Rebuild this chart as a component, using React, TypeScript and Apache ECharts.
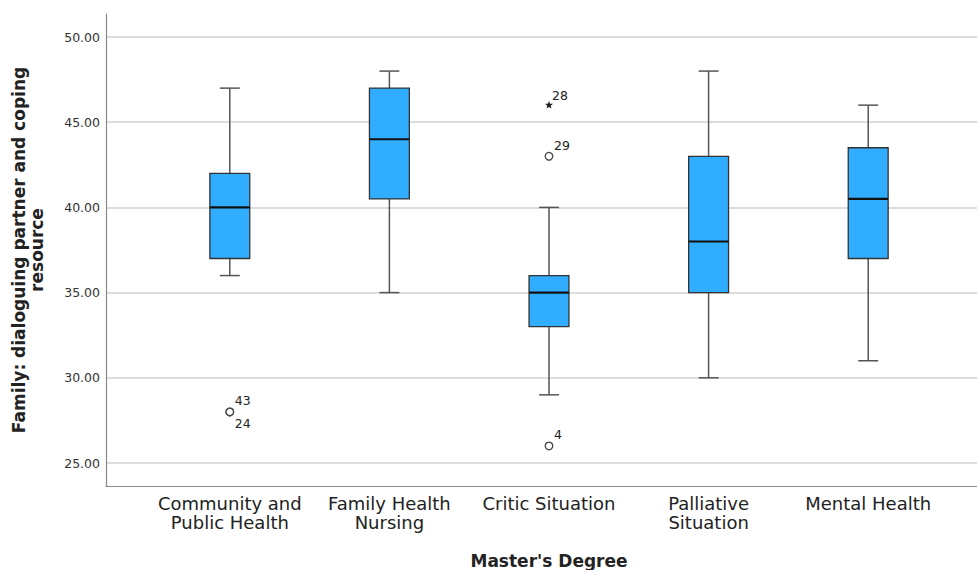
import React, { useEffect, useRef } from 'react';
import * as echarts from 'echarts';

// ---- Data ----
const categories = [
  'Community and\nPublic Health',
  'Family Health\nNursing',
  'Critic Situation',
  'Palliative\nSituation',
  'Mental Health',
];
const whiskerLow = [36, 35, 29, 30, 31];
const quartile1 = [37, 40.5, 33, 35, 37];
const medians = [40, 44, 35, 38, 40.5];
const quartile3 = [42, 47, 36, 43, 43.5];
const whiskerHigh = [47, 48, 40, 48, 46];

// outliers: category index, value, case number, extreme (star) flag
const outlierCategory = [0, 0, 2, 2, 2];
const outlierValue = [28, 28, 46, 43, 26];
const outlierCase = ['43', '24', '28', '29', '4'];
const outlierExtreme = [false, false, true, false, false];

const yTicks = { min: 25, max: 50, step: 5 };

const FONT = 'DejaVu Sans';
const TEXT = '#222';

export default function App() {
  const ref = useRef<HTMLDivElement>(null);

  useEffect(() => {
    document.body.style.margin = '0';
    const chart = echarts.init(ref.current!, null, { renderer: 'svg' });

    const boxData = categories.map((_, i) => [
      i,
      whiskerLow[i],
      quartile1[i],
      medians[i],
      quartile3[i],
      whiskerHigh[i],
    ]);
    const outlierData = outlierCategory.map((c, i) => [c, outlierValue[i], i]);

    const option: any = {
      animation: false,
      grid: [
        { left: 106, right: 0, top: 14, bottom: 84, outerBoundsMode: 'none', containLabel: false },
        { left: 106, right: 0, top: 37, bottom: 107, outerBoundsMode: 'none', containLabel: false },
        { left: 150, right: 29, top: 37, bottom: 107, outerBoundsMode: 'none', containLabel: false },
      ],
      xAxis: [
        {
          gridIndex: 0,
          type: 'value',
          min: 0,
          max: 1,
          axisLine: { show: true, onZero: false, lineStyle: { color: '#8a8a8a', width: 1.2 } },
          axisTick: { show: false },
          axisLabel: { show: false },
          splitLine: { show: false },
        },
        { gridIndex: 1, type: 'value', min: 0, max: 1, show: false },
        {
          gridIndex: 2,
          type: 'category',
          data: categories,
          axisLine: { show: false },
          axisTick: { show: false },
          splitLine: { show: false },
          axisLabel: {
            interval: 0,
            margin: 31,
            fontSize: 18,
            lineHeight: 19,
            color: TEXT,
            fontFamily: FONT,
          },
          name: "Master's Degree",
          nameLocation: 'middle',
          nameGap: 89,
          nameTextStyle: { fontSize: 17, fontWeight: 'bold', color: TEXT, fontFamily: FONT },
        },
      ],
      yAxis: [
        {
          gridIndex: 0,
          type: 'value',
          min: 0,
          max: 1,
          axisLine: { show: true, onZero: false, lineStyle: { color: '#8a8a8a', width: 1.2 } },
          axisTick: { show: false },
          axisLabel: { show: false },
          splitLine: { show: false },
        },
        {
          gridIndex: 1,
          type: 'value',
          min: yTicks.min,
          max: yTicks.max,
          interval: yTicks.step,
          axisLine: { show: false },
          axisTick: { show: false },
          axisLabel: {
            formatter: (v: number) => v.toFixed(2),
            fontSize: 12.5,
            color: '#333',
            fontFamily: FONT,
            margin: 6,
          },
          splitLine: { show: true, lineStyle: { color: '#d2d2d2', width: 1.5 } },
          name: 'Family: dialoguing partner and coping\nresource',
          nameLocation: 'middle',
          nameRotate: 90,
          nameGap: 60,
          nameTextStyle: {
            fontSize: 17,
            fontWeight: 'bold',
            color: TEXT,
            fontFamily: FONT,
            lineHeight: 18,
            align: 'center',
          },
        },
        { gridIndex: 2, type: 'value', min: yTicks.min, max: yTicks.max, show: false },
      ],
      series: [
        {
          type: 'custom',
          xAxisIndex: 2,
          yAxisIndex: 2,
          data: boxData,
          renderItem: (params: any, api: any) => {
            const i = api.value(0);
            const band = api.size([1, 0])[0];
            const bw = band * 0.25;
            const cw = band * 0.125;
            const [cx, yLow] = api.coord([i, api.value(1)]);
            const yQ1 = api.coord([i, api.value(2)])[1];
            const yMed = api.coord([i, api.value(3)])[1];
            const yQ3 = api.coord([i, api.value(4)])[1];
            const yHigh = api.coord([i, api.value(5)])[1];
            const wStyle = { stroke: '#555', lineWidth: 1.5 };
            return {
              type: 'group',
              children: [
                { type: 'line', shape: { x1: cx, y1: yLow, x2: cx, y2: yQ1 }, style: wStyle },
                { type: 'line', shape: { x1: cx, y1: yQ3, x2: cx, y2: yHigh }, style: wStyle },
                { type: 'line', shape: { x1: cx - cw / 2, y1: yLow, x2: cx + cw / 2, y2: yLow }, style: wStyle },
                { type: 'line', shape: { x1: cx - cw / 2, y1: yHigh, x2: cx + cw / 2, y2: yHigh }, style: wStyle },
                {
                  type: 'rect',
                  shape: { x: cx - bw / 2, y: yQ3, width: bw, height: yQ1 - yQ3 },
                  style: { fill: '#30adff', stroke: '#333', lineWidth: 1.3 },
                },
                {
                  type: 'line',
                  shape: { x1: cx - bw / 2, y1: yMed, x2: cx + bw / 2, y2: yMed },
                  style: { stroke: '#111', lineWidth: 2.2 },
                },
              ],
            };
          },
        },
        {
          type: 'custom',
          xAxisIndex: 2,
          yAxisIndex: 2,
          data: outlierData,
          renderItem: (params: any, api: any) => {
            const idx = api.value(2);
            const [cx, cy] = api.coord([api.value(0), api.value(1)]);
            // a repeated point gets its case label below the marker
            let below = false;
            for (let k = 0; k < idx; k++) {
              if (outlierCategory[k] === outlierCategory[idx] && outlierValue[k] === outlierValue[idx]) below = true;
            }
            const children: any[] = [];
            if (outlierExtreme[idx]) {
              const pts: number[][] = [];
              for (let j = 0; j < 10; j++) {
                const r = j % 2 === 0 ? 4.2 : 1.8;
                const a = -Math.PI / 2 + (j * Math.PI) / 5;
                pts.push([cx + r * Math.cos(a), cy + r * Math.sin(a)]);
              }
              children.push({ type: 'polygon', shape: { points: pts }, style: { fill: '#222' } });
            } else {
              children.push({
                type: 'circle',
                shape: { cx, cy, r: 3.8 },
                style: { fill: '#fff', stroke: '#444', lineWidth: 1.3 },
              });
            }
            const dx = outlierExtreme[idx] ? 3 : 5;
            const dy = below ? 12 : outlierExtreme[idx] ? -10 : -11;
            children.push({
              type: 'text',
              style: {
                x: cx + dx,
                y: cy + dy,
                text: outlierCase[idx],
                fontSize: 12.5,
                fontFamily: FONT,
                fill: TEXT,
                align: 'left',
                verticalAlign: 'middle',
              },
            });
            return { type: 'group', children };
          },
        },
      ],
    };

    chart.setOption(option);
    return () => chart.dispose();
  }, []);

  return <div ref={ref} style={{ width: 977, height: 570 }} />;
}
